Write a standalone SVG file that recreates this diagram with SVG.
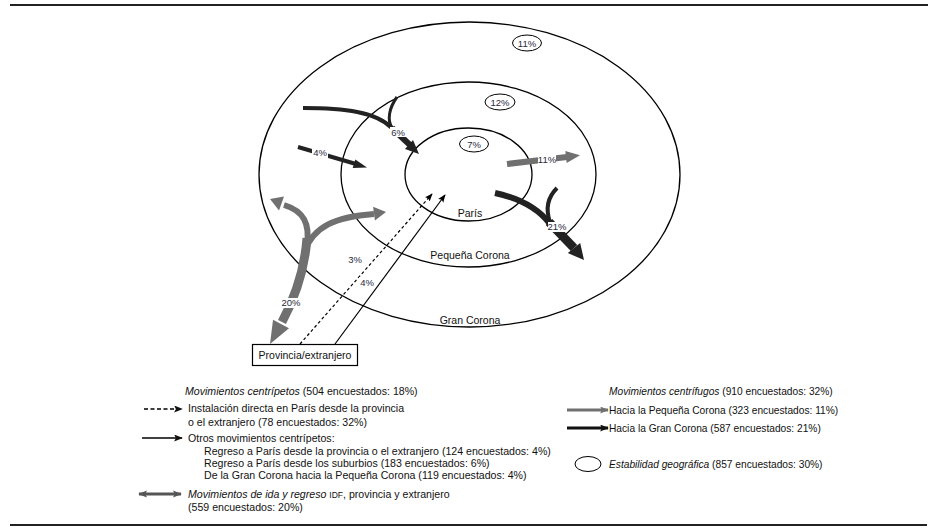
<svg xmlns="http://www.w3.org/2000/svg" width="939" height="531" viewBox="0 0 939 531">
<defs>
<style>
text{font-family:"Liberation Sans",Arial,sans-serif;fill:#111}
.lbl{font-size:10.5px;text-anchor:middle}
.pct{font-size:9.5px;text-anchor:middle;fill:#2a2a40}
.lg{font-size:10.6px}
.lgr{font-size:10.2px}
.it{font-style:italic}
.ring{fill:none;stroke:#000;stroke-width:1.3}
.small{fill:#fff;stroke:#000;stroke-width:1}
.blk{fill:none;stroke:#222;stroke-linecap:butt}
.gry{fill:none;stroke:#707070}
.bg{fill:#fff}
</style>
<marker id="ah" viewBox="0 0 10 8" refX="9" refY="4" markerWidth="8" markerHeight="7" markerUnits="userSpaceOnUse" orient="auto">
<path d="M0,0 L10,4 L0,8 L2,4 z" fill="#000"/>
</marker>
<marker id="ahL" viewBox="0 0 10 8" refX="9" refY="4" markerWidth="9" markerHeight="7" markerUnits="userSpaceOnUse" orient="auto">
<path d="M0,0 L10,4 L0,8 L2,4 z" fill="#111"/>
</marker>
<marker id="ahG" viewBox="0 0 10 8" refX="9" refY="4" markerWidth="9" markerHeight="7" markerUnits="userSpaceOnUse" orient="auto">
<path d="M0,0 L10,4 L0,8 L2,4 z" fill="#707070"/>
</marker>
<marker id="ahD" viewBox="0 0 10 8" refX="9" refY="4" markerWidth="9" markerHeight="8" markerUnits="userSpaceOnUse" orient="auto-start-reverse">
<path d="M0,0 L10,4 L0,8 L2,4 z" fill="#555"/>
</marker>
</defs>

<line x1="10" y1="5" x2="928" y2="5" stroke="#222" stroke-width="2"/>
<line x1="10" y1="525" x2="927" y2="525" stroke="#222" stroke-width="2"/>

<g id="gran-corona">
<ellipse class="ring" cx="469.5" cy="174.5" rx="210.5" ry="152.5"/>
<text class="lbl" x="470" y="324">Gran Corona</text>
</g>
<g id="pequena-corona">
<ellipse class="ring" cx="468.5" cy="174.5" rx="127.5" ry="92.5"/>
<text class="lbl" x="470" y="259">Pequeña Corona</text>
</g>
<g id="paris">
<ellipse class="ring" cx="468.5" cy="174.5" rx="63.5" ry="46.5"/>
<text class="lbl" x="470" y="217">París</text>
</g>
<g id="stab-gran">
<ellipse class="small" cx="527" cy="43" rx="14.5" ry="8"/>
<text class="pct" x="527" y="46.5">11%</text>
</g>
<g id="stab-pequena">
<ellipse class="small" cx="500" cy="102" rx="15" ry="8"/>
<text class="pct" x="500" y="105.5">12%</text>
</g>
<g id="stab-paris">
<ellipse class="small" cx="474" cy="144" rx="14.5" ry="8"/>
<text class="pct" x="474" y="147.5">7%</text>
</g>
<g id="provincia">
<rect x="252.5" y="344.5" width="105" height="21" fill="#fff" stroke="#000" stroke-width="1.2"/>
<text x="305" y="359" style="font-size:10.5px;text-anchor:middle">Provincia/extranjero</text>
</g>

<g id="connectors">
<path d="M300,344 L432,194" fill="none" stroke="#000" stroke-width="1.2" stroke-dasharray="3,2.5" marker-end="url(#ah)"/>
<path d="M335,344 L445,195" fill="none" stroke="#000" stroke-width="1.2" marker-end="url(#ah)"/>
<rect class="bg" x="347" y="254" width="16" height="10"/>
<text class="pct" x="355" y="263">3%</text>
<rect class="bg" x="359" y="277" width="16" height="10"/>
<text class="pct" x="367" y="286">4%</text>

<path class="blk" d="M298,147 L356,164" stroke-width="4"/>
<polygon points="367,167.5 352.7,168 355.3,159.4" fill="#222"/>
<rect class="bg" x="312" y="148" width="16" height="10"/>
<text class="pct" x="320" y="156">4%</text>

<path class="blk" d="M303,108 C345,108 376,112 392,128" stroke-width="4"/>
<path class="blk" d="M397,97 C389,108 387,120 392,128" stroke-width="3"/>
<path class="blk" d="M392,128 L410,145" stroke-width="6"/>
<polygon points="419,154 405,149 413,140" fill="#222"/>
<rect class="bg" x="390" y="127" width="16" height="10"/>
<text class="pct" x="398" y="135.5">6%</text>

<path class="gry" d="M507,164 L567,157" stroke-width="6"/>
<polygon points="580,155.3 566.7,163 565.3,151" fill="#707070"/>
<rect class="bg" x="538" y="155" width="18" height="10"/>
<text class="pct" x="547" y="163">11%</text>

<path class="blk" d="M495,193 C518,198 538,208 550,224" stroke-width="6"/>
<path class="blk" d="M557,188 C548,197 545,208 550,222" stroke-width="4"/>
<path class="blk" d="M549,222 L574,248" stroke-width="9"/>
<polygon points="584,260 567.8,253.1 580.2,242.9" fill="#222"/>
<rect class="bg" x="548" y="222" width="18" height="10"/>
<text class="pct" x="557" y="230">21%</text>

<path class="gry" d="M307,238 C305,265 298,292 282,322" stroke-width="9"/>
<polygon points="270,344 289,328.3 273,319.7" fill="#707070"/>
<path class="gry" d="M307,245 C310,224 304,211 284,205" stroke-width="6"/>
<polygon points="270,199 284,196.5 279,210.5" fill="#707070"/>
<path class="gry" d="M304,252 C314,226 335,217 374,214" stroke-width="6"/>
<polygon points="386,212 374.9,220.6 373.1,206.8" fill="#707070"/>
<rect class="bg" x="282" y="298" width="18" height="10"/>
<text class="pct" x="291" y="306">20%</text>
</g>

<g id="legend-left">
<text class="lg" x="185" y="395"><tspan class="it">Movimientos centrípetos</tspan> (504 encuestados: 18%)</text>
<path d="M144,409 L182,409" stroke="#000" stroke-width="1.6" stroke-dasharray="4,2.5" fill="none" marker-end="url(#ahL)"/>
<text class="lg" x="188" y="412">Instalación directa en París desde la provincia</text>
<text class="lg" x="188" y="426">o el extranjero (78 encuestados: 32%)</text>
<path d="M142,438 L182,438" stroke="#000" stroke-width="1.6" fill="none" marker-end="url(#ahL)"/>
<text class="lg" x="188" y="442">Otros movimientos centrípetos:</text>
<text class="lg" x="204" y="455">Regreso a París desde la provincia o el extranjero (124 encuestados: 4%)</text>
<text class="lg" x="204" y="467">Regreso a París desde los suburbios (183 encuestados: 6%)</text>
<text class="lg" x="204" y="479">De la Gran Corona hacia la Pequeña Corona (119 encuestados: 4%)</text>
<path d="M139,494 L181,494" stroke="#555" stroke-width="3" fill="none" marker-start="url(#ahD)" marker-end="url(#ahD)"/>
<text class="lg" x="188" y="498"><tspan class="it">Movimientos de ida y regreso</tspan> <tspan style="font-size:8.5px">IDF</tspan>, provincia y extranjero</text>
<text class="lg" x="188" y="511">(559 encuestados: 20%)</text>
</g>

<g id="legend-right">
<text class="lgr" x="609" y="395"><tspan class="it">Movimientos centrífugos</tspan> (910 encuestados: 32%)</text>
<path d="M567,410 L608,410" stroke="#707070" stroke-width="3" fill="none" marker-end="url(#ahG)"/>
<text class="lgr" x="609" y="414">Hacia la Pequeña Corona (323 encuestados: 11%)</text>
<path d="M567,428 L608,428" stroke="#111" stroke-width="3" fill="none" marker-end="url(#ahL)"/>
<text class="lgr" x="609" y="432">Hacia la Gran Corona (587 encuestados: 21%)</text>
<ellipse class="small" cx="588" cy="464" rx="13" ry="7.5"/>
<text class="lgr" x="609" y="468"><tspan class="it">Estabilidad geográfica</tspan> (857 encuestados: 30%)</text>
</g>
</svg>
